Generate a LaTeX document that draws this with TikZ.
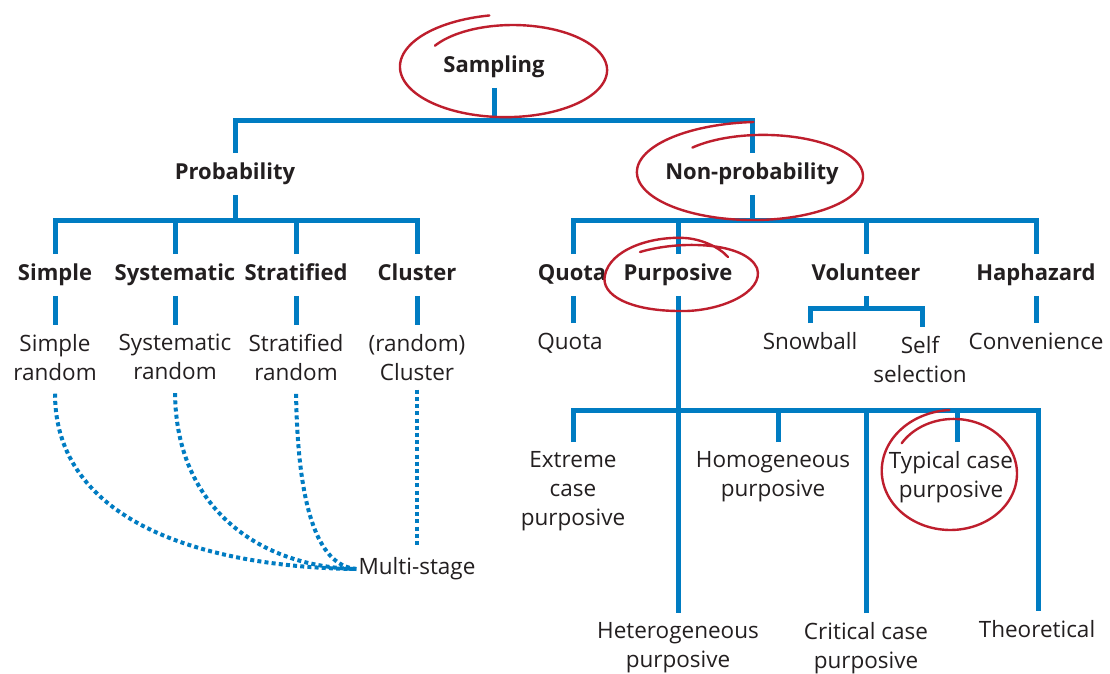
\documentclass[tikz,border=0pt]{standalone}
\usepackage{fontspec}
\setmainfont{Open Sans}
\definecolor{treeblue}{RGB}{0,124,194}
\definecolor{penred}{RGB}{190,30,45}
\definecolor{ink}{RGB}{35,31,32}
\newcommand\handloop[8]{%
  \draw[redpen] plot[domain=#5:#6, samples=160, variable=\t]
    ({#1+#3*(#7+(#8-#7)*(\t-#5)/(#6-#5))*cos(\t)},
     {#2+#4*(#7+(#8-#7)*(\t-#5)/(#6-#5))*sin(\t)});}
\tikzset{
  tree/.style={draw=treeblue, line width=5pt},
  dots/.style={draw=treeblue, line width=4pt, dash pattern=on 4pt off 3.2pt},
  redpen/.style={draw=penred, line width=2.4pt, line cap=round, line join=round},
  head/.style={font=\fontsize{22}{29}\selectfont\bfseries, text=ink,
    text height=16pt, text depth=4.5pt, inner xsep=2pt, inner ysep=10.5pt},
  leaf/.style={font=\fontsize{22.5}{29}\selectfont, text=ink,
    text height=16pt, text depth=4.5pt, inner xsep=2pt, inner ysep=10.5pt},
  multi/.style={font=\fontsize{22.5}{29}\selectfont, text=ink, align=center,
    anchor=north, inner xsep=2pt, inner ysep=9pt},
}
\begin{document}
\begin{tikzpicture}[x=1pt,y=-1pt]
\useasboundingbox (0,0) rectangle (1110,673);
\fill[white] (0,0) rectangle (1110,673);

% headings
\node[head] (samp)   at (494,67)  {Sampling};
\node[head] (prob)   at (235,174) {Probability};
\node[head] (nonp)   at (752,174) {Non-probability};
\node[head] (simple) at (55,275)  {Simple};
\node[head] (syst)   at (175,275) {Systematic};
\node[head] (strat)  at (296,275) {Stratified};
\node[head] (clus)   at (417,275) {Cluster};
\node[head] (quota)  at (572,275) {Quota};
\node[head] (purp)   at (678,275) {Purposive};
\node[head] (vol)    at (866,275) {Volunteer};
\node[head] (hap)    at (1036,275) {Haphazard};

% leaves
\node[multi] (sr)   at (55,325)  {Simple\\random};
\node[multi] (sysr) at (175,325) {Systematic\\random};
\node[multi] (strr) at (296,325) {Stratified\\random};
\node[multi] (clr)  at (417,325) {(random)\\Cluster};
\node[leaf]  (quo2) at (570,344) {Quota};
\node[leaf]  (snow) at (810,344) {Snowball};
\node[multi] (self) at (920,327) {Self\\selection};
\node[leaf]  (conv) at (1036,344) {Convenience};
\node[multi] (ext)  at (573,442) {Extreme\\case\\purposive};
\node[multi] (homo) at (773,442) {Homogeneous\\purposive};
\node[multi] (typ)  at (951,442) {Typical case\\purposive};
\node[multi] (het)  at (678,613) {Heterogeneous\\purposive};
\node[multi] (crit) at (866,613) {Critical case\\purposive};
\node[leaf]  (theo) at (1037,632) {Theoretical};
\node[leaf]  (ms)   at (417,569) {Multi-stage};

% bus coordinates
\coordinate (b0) at (494,120);
\coordinate (b1) at (235,220);
\coordinate (b2) at (752,220);
\coordinate (b3) at (866,308);
\coordinate (b4) at (678,410);

% tree connectors
\draw[tree] (samp.south) -- (b0);
\draw[tree] (prob.north) |- (b0) -| (nonp.north);
\draw[tree] (prob.south) -- (b1);
\draw[tree] (simple.north) |- (b1) -| (clus.north);
\draw[tree] (syst.north) -- (syst.north |- b1);
\draw[tree] (strat.north) -- (strat.north |- b1);
\draw[tree] (nonp.south) -- (b2);
\draw[tree] ([xshift=1pt]quota.north) |- (b2) -| (hap.north);
\draw[tree] (purp.north) -- (purp.north |- b2);
\draw[tree] (vol.north) -- (vol.north |- b2);
\draw[tree] (simple.south) -- (sr.north);
\draw[tree] (syst.south) -- (sysr.north);
\draw[tree] (strat.south) -- (strr.north);
\draw[tree] (clus.south) -- (clr.north);
\draw[tree] ([xshift=3pt]quo2.north) -- ([xshift=1pt]quota.south);
\draw[tree] (vol.south) -- (b3);
\draw[tree] (snow.north) |- (b3) -| ([xshift=2pt]self.north);
\draw[tree] (hap.south) -- (conv.north);
\draw[tree] (purp.south) -- (het.north);
\draw[tree] (ext.north) |- (b4) -| ([xshift=1pt]theo.north);
\draw[tree] ([xshift=5pt]homo.north) -- ([xshift=5pt]homo.north |- b4);
\draw[tree] ([xshift=6pt]typ.north) -- ([xshift=6pt]typ.north |- b4);
\draw[tree] (crit.north) -- (crit.north |- b4);

% dotted links to multi-stage
\draw[dots, shorten <=4pt] (sr.south) .. controls (55,520) and (200,567) .. (ms.west);
\draw[dots, shorten <=4pt] (sysr.south) .. controls (176,510) and (262,567) .. (ms.west);
\draw[dots, shorten <=4pt] (strr.south) .. controls (298,520) and (322,566) .. (ms.west);
\draw[dots] (clr.south) -- (ms.north);

% hand-drawn red loops
\handloop{509.2}{68.4}{95.2}{44.8}{213}{620}{0.93}{1.2}
\handloop{758}{174.2}{103.1}{41.8}{225}{628}{0.9}{1.25}
\handloop{952}{472.2}{71.4}{61}{214}{628}{0.85}{1.02}
\draw[redpen] (640,252) .. controls (680,240) and (745,242) .. (757,268)
  .. controls (765,292) and (720,312) .. (680,311)
  .. controls (630,311) and (600,295) .. (605,275)
  .. controls (610,250) and (650,236) .. (685,238)
  .. controls (700,239) and (718,246) .. (728,257);
\end{tikzpicture}
\end{document}
